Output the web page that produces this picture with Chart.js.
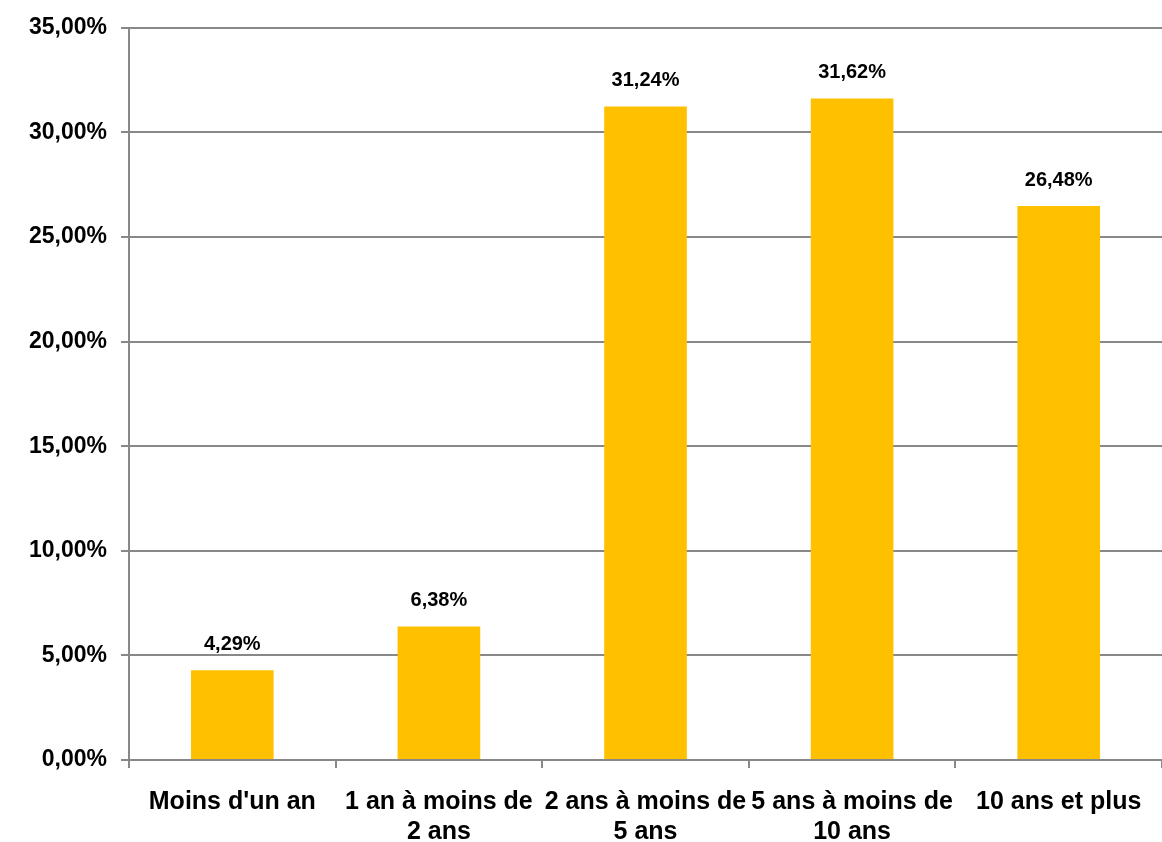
<html>
  <head>
    <script src="https://cdn.jsdelivr.net/npm/chart.js@4.4.0/dist/chart.umd.min.js"></script>
    <style>
      body { margin: 0; background: #fff; }
      #wrap { width: 1162px; height: 842px; }
    </style>
  </head>
  <body>
    <div id="wrap"><canvas id="myChart" width="1162" height="842"></canvas></div>
  </body>
  <script>
    const categories = [
      'Moins d\'un an',
      ['1 an à moins de', '2 ans'],
      ['2 ans à moins de', '5 ans'],
      ['5 ans à moins de', '10 ans'],
      '10 ans et plus'
    ];
    const values = [4.29, 6.38, 31.24, 31.62, 26.48];
    const yTicks = [0, 5, 10, 15, 20, 25, 30, 35];

    const fmt = v => v.toFixed(2).replace('.', ',') + '%';

    // draws the value above each bar
    const barLabels = {
      id: 'barLabels',
      afterDatasetsDraw(chart) {
        const ctx = chart.ctx;
        const meta = chart.getDatasetMeta(0);
        ctx.save();
        ctx.font = 'bold 20px "Liberation Sans", Arial, sans-serif';
        ctx.fillStyle = '#000';
        ctx.textAlign = 'center';
        ctx.textBaseline = 'bottom';
        meta.data.forEach((bar, i) => {
          ctx.fillText(fmt(values[i]), bar.x, bar.y - 16);
        });
        ctx.restore();
      }
    };

    const ctx = document.getElementById('myChart').getContext('2d');
    const myChart = new Chart(ctx, {
      type: 'bar',
      data: {
        labels: categories,
        datasets: [{
          data: values,
          backgroundColor: '#FFC000',
          borderWidth: 0,
          categoryPercentage: 1,
          barPercentage: 0.4
        }]
      },
      options: {
        responsive: false,
        animation: false,
        layout: { padding: { top: 23, right: -7, left: 0, bottom: 0 } },
        plugins: {
          legend: { display: false },
          tooltip: { enabled: false }
        },
        scales: {
          x: {
            grid: {
              offset: true,
              drawOnChartArea: false,
              drawTicks: true,
              tickLength: 8,
              color: '#888',
              lineWidth: 2
            },
            border: { color: '#888', width: 2 },
            ticks: {
              color: '#000',
              maxRotation: 0,
              autoSkip: false,
              padding: 19,
              font: { family: '"Liberation Sans", Arial, sans-serif', size: 25, weight: 'bold', lineHeight: 1.2 }
            },
            afterFit: s => { s.height = 82; }
          },
          y: {
            min: 0,
            max: 35,
            afterBuildTicks: s => { s.ticks = yTicks.map(v => ({ value: v })); },
            grid: {
              color: '#888',
              lineWidth: 2,
              drawTicks: true,
              tickLength: 8
            },
            border: { color: '#888', width: 2 },
            ticks: {
              color: '#000',
              padding: 14,
              callback: v => fmt(v),
              font: { family: '"Liberation Sans", Arial, sans-serif', size: 23, weight: 'bold' }
            },
            afterFit: s => { s.width = 129; }
          }
        }
      },
      plugins: [barLabels]
    });
  </script>
</html>
